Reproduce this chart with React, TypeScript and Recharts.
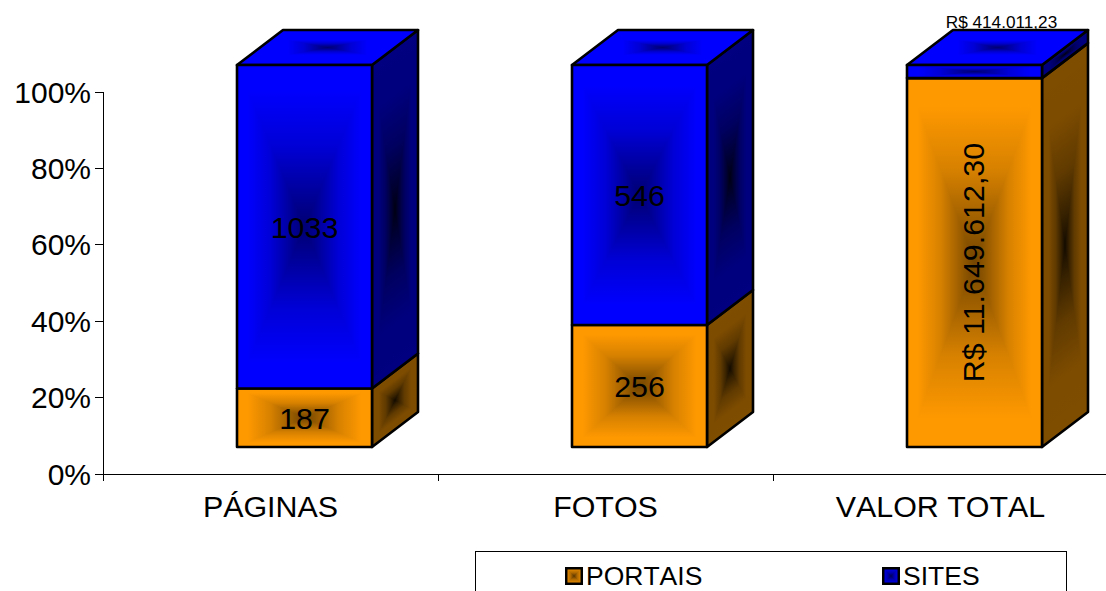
import React from 'react';
import { BarChart, Bar, XAxis, YAxis, Legend, LabelList } from 'recharts';

const categories: string[] = ['PÁGINAS', 'FOTOS', 'VALOR TOTAL'];
const portais: number[] = [187, 256, 11649612.3];
const sites: number[] = [1033, 546, 414011.23];
const portaisLabels: string[] = ['187', '256', 'R$ 11.649.612,30'];
const sitesLabels: string[] = ['1033', '546', 'R$ 414.011,23'];
const percentTicks: number[] = [0, 0.2, 0.4, 0.6, 0.8, 1];

const data = categories.map((name, i) => ({
  name,
  PORTAIS: portais[i],
  SITES: sites[i],
  portaisLabel: portaisLabels[i],
  sitesLabel: sitesLabels[i],
}));

const FONT = '"Liberation Sans", Arial, sans-serif';
const FONT_SIZE = 30.4;
const ORANGE = '#ff9900';
const BLUE = '#0000ff';
const sideColors: { [key: string]: string } = { [ORANGE]: '#7f4d00', [BLUE]: '#000080' };

// plot area in the picture
const PLOT_LEFT = 103;
const PLOT_RIGHT = 1108;
const PLOT_TOP = 92;
const PLOT_BOTTOM = 474;
const CHART_W = 1110;
const CHART_H = 610;
const BAND = (PLOT_RIGHT - PLOT_LEFT) / categories.length;

// fake 3d box: front face is pushed off the axis, depth goes up and right
const SHIFT_X = 34;
const SHIFT_Y = -27;
const DEPTH_X = 46;
const DEPTH_Y = 35;

const faceStops: [number, number][] = [[0, 0], [0.15, 0], [0.5, 0.16], [0.8, 0.4], [1, 0.55]];
const sideStops: [number, number][] = [[0, 0], [0.3, 0.02], [0.6, 0.25], [0.85, 0.6], [1, 0.85]];

const GradDefs = () => {
  const make = (kind: string, stops: [number, number][]) =>
    [
      ['t', 0, 0, 0, 0.5],
      ['b', 0, 1, 0, 0.5],
      ['l', 0, 0, 0.5, 0],
      ['r', 1, 0, 0.5, 0],
    ].map(([side, x1, y1, x2, y2]) => (
      <linearGradient key={kind + side} id={kind + side} gradientUnits="userSpaceOnUse" x1={x1} y1={y1} x2={x2} y2={y2}>
        {stops.map(([o, a]) => (
          <stop key={o} offset={o} stopColor="#000" stopOpacity={a} />
        ))}
      </linearGradient>
    ));
  return (
    <svg width={0} height={0} style={{ position: 'absolute' }}>
      <defs>
        {make('face', faceStops)}
        {make('side', sideStops)}
      </defs>
    </svg>
  );
};

// darkening towards the middle of a face, drawn in a unit square and mapped with a matrix
const Pyramid = ({ m, kind }: { m: number[]; kind: string }) => (
  <g transform={`matrix(${m.join(' ')})`} shapeRendering="crispEdges">
    <polygon points="0,0 1,0 0.5,0.5" fill={`url(#${kind}t)`} />
    <polygon points="0,1 1,1 0.5,0.5" fill={`url(#${kind}b)`} />
    <polygon points="0,0 0,1 0.5,0.5" fill={`url(#${kind}l)`} />
    <polygon points="1,0 1,1 0.5,0.5" fill={`url(#${kind}r)`} />
  </g>
);

const Box = (props: any) => {
  const { x, y, width: w, height: h, fill, withTop } = props;
  const l = x + SHIFT_X;
  const t = y + SHIFT_Y;
  const r = l + w;
  const b = t + h;
  const edge = { stroke: '#000', strokeWidth: 2.6, strokeLinejoin: 'round' as const };
  const sidePts = `${r},${t} ${r + DEPTH_X},${t - DEPTH_Y} ${r + DEPTH_X},${b - DEPTH_Y} ${r},${b}`;
  const topPts = `${l},${t} ${r},${t} ${r + DEPTH_X},${t - DEPTH_Y} ${l + DEPTH_X},${t - DEPTH_Y}`;
  return (
    <g>
      <polygon points={sidePts} fill={sideColors[fill]} />
      <Pyramid m={[DEPTH_X, -DEPTH_Y, 0, h, r, t]} kind="side" />
      <polygon points={sidePts} fill="none" {...edge} />
      {withTop && (
        <>
          <polygon points={topPts} fill={fill} />
          <Pyramid m={[w * 0.7, 0, 0, DEPTH_Y * 0.5, l + w * 0.15 + DEPTH_X / 2, t - DEPTH_Y * 0.75]} kind="face" />
          <polygon points={topPts} fill="none" {...edge} />
        </>
      )}
      <rect x={l} y={t} width={w} height={h} fill={fill} />
      <Pyramid m={[w, 0, 0, h, l, t]} kind="face" />
      <rect x={l} y={t} width={w} height={h} fill="none" {...edge} />
    </g>
  );
};

const CategoryTick = (props: any) => {
  const { x, payload, index } = props;
  return (
    <g shapeRendering="crispEdges">
      {index === 0 && <line x1={x - BAND / 2} x2={x - BAND / 2} y1={PLOT_BOTTOM} y2={PLOT_BOTTOM + 7} stroke="#000" />}
      <line x1={x + BAND / 2} x2={x + BAND / 2} y1={PLOT_BOTTOM} y2={PLOT_BOTTOM + 7} stroke="#000" />
      <text
        x={x}
        y={PLOT_BOTTOM + 43}
        textAnchor="middle"
        fontSize={FONT_SIZE}
        fontFamily={FONT}
        fill="#000"
        shapeRendering="auto"
        style={{ fontKerning: 'none' }}
      >
        {payload.value}
      </text>
    </g>
  );
};

const PortaisLabel = (props: any) => {
  const { x, y, width, height } = props.viewBox;
  const vertical = props.index === 2;
  const cx = x + SHIFT_X + width / 2 - (vertical ? 1 : 0);
  const cy = y + SHIFT_Y + height / 2;
  return (
    <text
      x={cx}
      y={cy}
      dy="0.355em"
      textAnchor="middle"
      fontSize={FONT_SIZE}
      fontFamily={FONT}
      fill="#000"
      transform={vertical ? `rotate(-90 ${cx} ${cy})` : undefined}
    >
      {props.value}
    </text>
  );
};

const SitesLabel = (props: any) => {
  const { x, y, width, height } = props.viewBox;
  const small = props.index === 2;
  const cx = x + SHIFT_X + width / 2 + (small ? 27 : 0);
  const cy = small ? y + SHIFT_Y - 43 : y + SHIFT_Y + height / 2;
  return (
    <text x={cx} y={cy} dy="0.355em" textAnchor="middle" fontSize={small ? 17.2 : FONT_SIZE} fontFamily={FONT} fill="#000">
      {props.value}
    </text>
  );
};

const legendOffsets = [89, 406];

const LegendBox = ({ payload }: any) => (
  <div style={{ position: 'relative', height: 60, border: '1px solid #000', boxSizing: 'border-box', fontFamily: FONT }}>
    {(payload || []).map((entry: any, i: number) => (
      <div key={entry.value} style={{ position: 'absolute', left: legendOffsets[i], top: 14, display: 'flex', alignItems: 'center' }}>
        <svg width={18} height={18} style={{ display: 'block' }}>
          <rect x={1.25} y={1.25} width={15.5} height={15.5} fill={entry.color} stroke="#000" strokeWidth={2.5} />
          <Pyramid m={[13, 0, 0, 13, 2.5, 2.5]} kind="face" />
          <rect x={2.5} y={2.5} width={13} height={13} fill="#000" fillOpacity={0.18} />
        </svg>
        <span style={{ fontSize: 26.5, lineHeight: '20px', marginLeft: 3, color: '#000', fontKerning: 'none' }}>{entry.value}</span>
      </div>
    ))}
  </div>
);

const App = () => (
  <div style={{ position: 'absolute', left: 0, top: 0, width: 1106, height: 591, overflow: 'hidden', background: '#fff' }}>
    <GradDefs />
    <BarChart
      width={CHART_W}
      height={CHART_H}
      data={data}
      stackOffset="expand"
      barCategoryGap={0}
      margin={{ top: PLOT_TOP, right: CHART_W - PLOT_RIGHT, bottom: CHART_H - PLOT_BOTTOM - 50, left: PLOT_LEFT - 60 }}
    >
      <XAxis
        dataKey="name"
        height={50}
        interval={0}
        tickLine={false}
        axisLine={{ stroke: '#000', shapeRendering: 'crispEdges' }}
        tick={CategoryTick}
      />
      <YAxis
        width={60}
        domain={[0, 1]}
        ticks={percentTicks}
        interval={0}
        tickSize={8}
        tickMargin={4}
        tickLine={{ stroke: '#000', shapeRendering: 'crispEdges' }}
        axisLine={{ stroke: '#000', shapeRendering: 'crispEdges' }}
        tick={{ fontSize: 30, fontFamily: FONT, fill: '#000' }}
        tickFormatter={(v: number) => `${Math.round(v * 100)}%`}
      />
      <Legend
        layout="horizontal"
        verticalAlign="middle"
        align="center"
        wrapperStyle={{ position: 'absolute', left: 475, top: 551, width: 592, height: 60 }}
        content={LegendBox}
      />
      <Bar
        dataKey="PORTAIS"
        stackId="a"
        barSize={135}
        fill={ORANGE}
        isAnimationActive={false}
        shape={(p: any) => <Box {...p} />}
      >
        <LabelList dataKey="portaisLabel" content={PortaisLabel} />
      </Bar>
      <Bar
        dataKey="SITES"
        stackId="a"
        barSize={135}
        fill={BLUE}
        isAnimationActive={false}
        shape={(p: any) => <Box {...p} withTop />}
      >
        <LabelList dataKey="sitesLabel" content={SitesLabel} />
      </Bar>
    </BarChart>
  </div>
);

export default App;
